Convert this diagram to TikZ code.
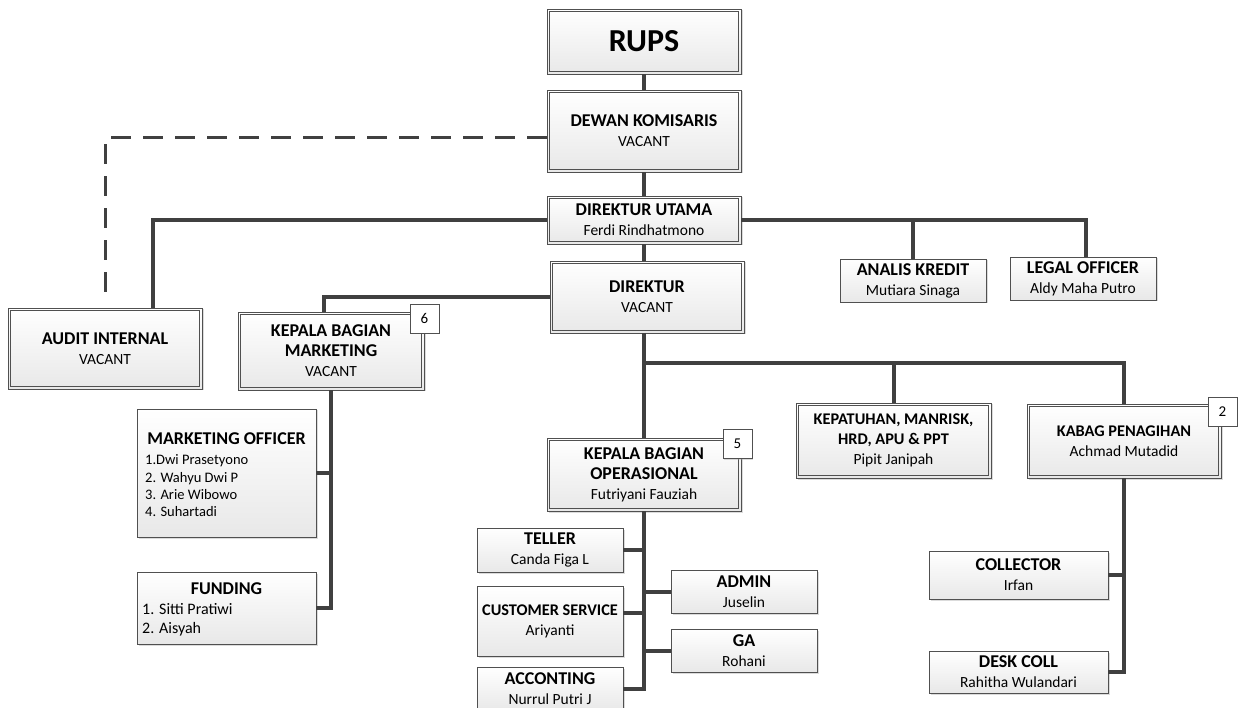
\documentclass[tikz,border=0pt]{standalone}
\usepackage{fontspec}
\setmainfont{Carlito}
\usetikzlibrary{shadows,calc}
\definecolor{linec}{HTML}{404040}
\definecolor{boxline}{HTML}{505050}
\newcommand\ttl[1]{{\fontsize{18}{21}\selectfont\bfseries #1}}
\newcommand\ttls[1]{{\fontsize{16.3}{20}\selectfont\bfseries #1}}
\tikzset{
 conn/.style={line width=4pt, draw=linec},
 dashconn/.style={line width=3pt, draw=linec, dash pattern=on 20pt off 12pt},
 boxbase/.style={rectangle, align=center, inner sep=0pt, top color=white, bottom color=black!9,
   drop shadow={shadow xshift=1.5pt, shadow yshift=-1.5pt, fill=black!35, opacity=0.4},
   font=\fontsize{15.5}{20}\selectfont},
 dbox/.style={boxbase, draw=boxline, line width=0.9pt},
 innerframe/.style={draw=boxline, line width=0.8pt},
 sbox/.style={boxbase, draw=boxline, line width=0.9pt},
 badge/.style={rectangle, draw=boxline, fill=white, line width=0.9pt, minimum width=29pt,
   minimum height=29pt, inner sep=0pt, font=\fontsize{15}{16}\selectfont,
   drop shadow={shadow xshift=1.2pt, shadow yshift=-1.2pt, fill=black!35, opacity=0.4}},
 txt/.style={inner sep=0pt, font=\fontsize{15}{17.5}\selectfont},
}
\begin{document}
\begin{tikzpicture}[x=1pt,y=-1pt]
\useasboundingbox (0,0) rectangle (1245,708);
% top chain
\node[dbox, minimum width=194pt, minimum height=65pt] (rups) at (644,41.5) {{\fontsize{32}{36}\selectfont\bfseries RUPS}};
\node[dbox, minimum width=194pt, minimum height=82pt] (dk) at (644,131) {\ttl{DEWAN KOMISARIS}\\VACANT};
\node[dbox, minimum width=194pt, minimum height=48pt] (du) at (644,220) {\ttl{DIREKTUR UTAMA}\\Ferdi Rindhatmono};
\node[dbox, minimum width=194pt, minimum height=72pt] (dir) at (647,297) {\ttl{DIREKTUR}\\VACANT};
% left
\node[dbox, minimum width=194pt, minimum height=81pt] (audit) at (105,348.5) {\ttl{AUDIT INTERNAL}\\VACANT};
\node[dbox, minimum width=186pt, minimum height=78pt] (kbm) at (331,351) {\ttl{KEPALA BAGIAN}\\\ttl{MARKETING}\\VACANT};
\node[sbox, minimum width=179pt, minimum height=128pt] (mo) at (226.5,473) {};
\node[txt] (moT) at (226.5,439) {\ttl{MARKETING OFFICER}};
\node[txt, anchor=west, align=left, font=\fontsize{14.5}{17.3}\selectfont] (moL) at (145,486) {1.Dwi Prasetyono\\2. Wahyu Dwi P\\3. Arie Wibowo\\4. Suhartadi};
\node[sbox, minimum width=179pt, minimum height=72pt] (fund) at (226.5,608) {};
\node[txt] (fundT) at (226.5,589) {\ttl{FUNDING}};
\node[txt, anchor=west, align=left, font=\fontsize{16}{19}\selectfont] (fundL) at (142,619.5) {1. Sitti Pratiwi\\2. Aisyah};
% right top
\node[sbox, minimum width=146pt, minimum height=43pt] (ak) at (913,280.5) {\ttl{ANALIS KREDIT}\\Mutiara Sinaga};
\node[sbox, minimum width=146pt, minimum height=43pt] (lo) at (1083,278.5) {\ttl{LEGAL OFFICER}\\Aldy Maha Putro};
% direktur children
\node[dbox, minimum width=195pt, minimum height=75pt] (kep) at (893.5,440.5) {\ttls{KEPATUHAN, MANRISK,}\\\ttls{HRD, APU \& PPT}\\Pipit Janipah};
\node[dbox, minimum width=194pt, minimum height=74pt] (kabag) at (1124,441) {\ttls{KABAG PENAGIHAN}\\Achmad Mutadid};
\node[dbox, minimum width=194pt, minimum height=73pt] (kbo) at (644,474.5) {\ttl{KEPALA BAGIAN}\\\ttl{OPERASIONAL}\\Futriyani Fauziah};
% operasional staff
\node[sbox, minimum width=146pt, minimum height=44pt] (tel) at (550,550) {\ttl{TELLER}\\Canda Figa L};
\node[sbox, minimum width=146pt, minimum height=70pt] (cs) at (550,621) {\ttls{CUSTOMER SERVICE}\\Ariyanti};
\node[sbox, minimum width=146pt, minimum height=44pt] (acc) at (550,689) {\ttl{ACCONTING}\\Nurrul Putri J};
\node[sbox, minimum width=146pt, minimum height=43pt] (adm) at (744,591.5) {\ttl{ADMIN}\\Juselin};
\node[sbox, minimum width=146pt, minimum height=43pt] (ga) at (744,650.5) {\ttl{GA}\\Rohani};
% penagihan staff
\node[sbox, minimum width=179pt, minimum height=48pt] (coll) at (1018.5,575) {\ttl{COLLECTOR}\\Irfan};
\node[sbox, minimum width=179pt, minimum height=42pt] (desk) at (1018.5,672) {\ttl{DESK COLL}\\Rahitha Wulandari};
% inner frames of the double-bordered boxes
\foreach \n in {rups,dk,du,dir,audit,kbm,kep,kabag,kbo}
  \draw[innerframe] ([shift={(3pt,3pt)}]\n.south west) rectangle ([shift={(-3pt,-3pt)}]\n.north east);
% badges
\node[badge] (b6) at (424.5,318.5) {6};
\node[badge] (b5) at (737.5,444) {5};
\node[badge] (b2) at (1222.5,411.5) {2};
% connectors
\draw[conn] (rups.south) -- (dk.north);
\draw[conn] (dk.south) -- (du.north);
\draw[conn] (du.south) -- (du.south |- dir.north);
\coordinate (adend) at (105,298);
\draw[dashconn] ($(dk.west)+(0,7)$) -| (adend);
\draw[conn] (du.west) -| ($(audit.north)+(48,0)$);
\draw[conn] (du.east) -| ($(lo.north)+(3,0)$);
\draw[conn] (ak.north) -- (ak.north |- du.east);
\draw[conn] (dir.west) -| ($(kbm.north)+(-7,0)$);
\draw[conn] (kbm.south) |- (fund.east);
\draw[conn] (mo.east) -- (mo.east -| kbm.south);
\draw[conn] (kbo.north) -- (kbo.north |- dir.south);
\coordinate (hub) at (644,363);
\draw[conn] (hub) -| (kabag.north);
\draw[conn] (kep.north) -- (kep.north |- hub);
\draw[conn] (kbo.south) |- (acc.east);
\draw[conn] (tel.east) -- (tel.east -| kbo.south);
\draw[conn] ($(cs.east)+(0,-8)$) -- ($(cs.east -| kbo.south)+(0,-8)$);
\draw[conn] (adm.west) -- (adm.west -| kbo.south);
\draw[conn] (ga.west) -- (ga.west -| kbo.south);
\draw[conn] (kabag.south) |- (desk.east);
\draw[conn] (coll.east) -- (coll.east -| kabag.south);
\end{tikzpicture}
\end{document}
